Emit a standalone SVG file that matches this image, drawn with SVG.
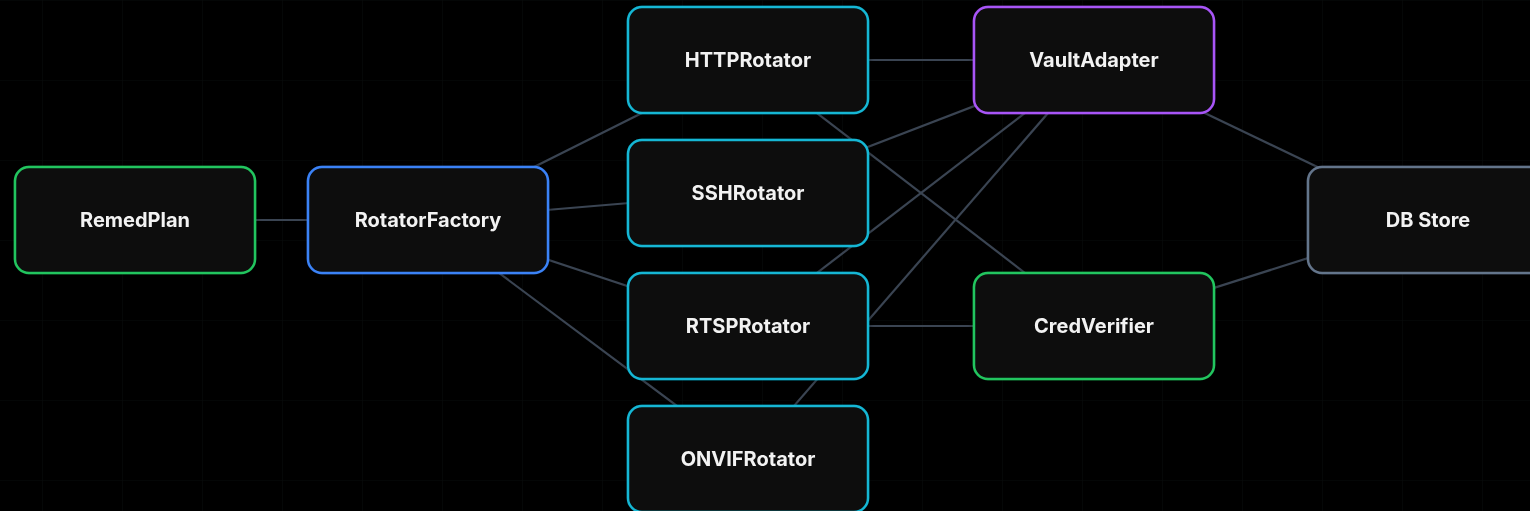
<svg xmlns="http://www.w3.org/2000/svg" width="1530" height="511" viewBox="0 0 1530 511">
  <defs>
    <pattern id="grid" width="80" height="80" patternUnits="userSpaceOnUse" x="42" y="0">
      <path d="M0 0V80M0 0H80" fill="none" stroke="#080b0b" stroke-width="1.2"/>
    </pattern>
    <filter id="glow" x="-20%" y="-20%" width="140%" height="140%">
      <feGaussianBlur in="SourceAlpha" stdDeviation="2.5" result="b"/>
      <feFlood flood-color="currentColor" flood-opacity="0.55"/>
      <feComposite in2="b" operator="in" result="g"/>
      <feMerge><feMergeNode in="g"/><feMergeNode in="SourceGraphic"/></feMerge>
    </filter>
    <style>
      .node rect { fill: #0c0c0c; stroke-width: 2.5; }
      .node text { fill: #f2f2f2; font-family: Inter, "Noto Sans", "Liberation Sans", sans-serif; font-size: 20px; font-weight: 700; text-anchor: middle; dominant-baseline: central; }
      .green { color: #22c55e; } .green rect { stroke: #22c55e; }
      .blue { color: #3b82f6; } .blue rect { stroke: #3b82f6; }
      .cyan { color: #13b6d4; } .cyan rect { stroke: #13b6d4; }
      .purple { color: #a855f7; } .purple rect { stroke: #a855f7; }
      .gray { color: #64748b; } .gray rect { stroke: #64748b; }
      #edges line { stroke: #3a4452; stroke-width: 2.2; }
    </style>
  </defs>

  <rect width="1530" height="511" fill="#000"/>
  <rect width="1530" height="511" fill="url(#grid)"/>

  <!-- connectors run centre to centre, hidden under the boxes -->
  <g id="edges">
    <line x1="135" y1="220" x2="428" y2="220"/>
    <line x1="428" y1="220" x2="748" y2="60"/>
    <line x1="428" y1="220" x2="748" y2="193"/>
    <line x1="428" y1="220" x2="748" y2="326"/>
    <line x1="428" y1="220" x2="748" y2="459"/>
    <line x1="748" y1="60" x2="1094" y2="60"/>
    <line x1="748" y1="60" x2="1094" y2="326"/>
    <line x1="748" y1="193" x2="1094" y2="60"/>
    <line x1="748" y1="326" x2="1094" y2="60"/>
    <line x1="748" y1="459" x2="1094" y2="60"/>
    <line x1="748" y1="326" x2="1094" y2="326"/>
    <line x1="1094" y1="60" x2="1428" y2="220"/>
    <line x1="1094" y1="326" x2="1428" y2="220"/>
  </g>

  <g id="remedplan" class="node green" filter="url(#glow)">
    <rect x="15" y="167" width="240" height="106" rx="14"/>
    <text x="135" y="220">RemedPlan</text>
  </g>
  <g id="rotatorfactory" class="node blue" filter="url(#glow)">
    <rect x="308" y="167" width="240" height="106" rx="14"/>
    <text x="428" y="220">RotatorFactory</text>
  </g>
  <g id="httprotator" class="node cyan" filter="url(#glow)">
    <rect x="628" y="7" width="240" height="106" rx="14"/>
    <text x="748" y="60">HTTPRotator</text>
  </g>
  <g id="sshrotator" class="node cyan" filter="url(#glow)">
    <rect x="628" y="140" width="240" height="106" rx="14"/>
    <text x="748" y="193">SSHRotator</text>
  </g>
  <g id="rtsprotator" class="node cyan" filter="url(#glow)">
    <rect x="628" y="273" width="240" height="106" rx="14"/>
    <text x="748" y="326">RTSPRotator</text>
  </g>
  <g id="onvifrotator" class="node cyan" filter="url(#glow)">
    <rect x="628" y="406" width="240" height="106" rx="14"/>
    <text x="748" y="459">ONVIFRotator</text>
  </g>
  <g id="vaultadapter" class="node purple" filter="url(#glow)">
    <rect x="974" y="7" width="240" height="106" rx="14"/>
    <text x="1094" y="60">VaultAdapter</text>
  </g>
  <g id="credverifier" class="node green" filter="url(#glow)">
    <rect x="974" y="273" width="240" height="106" rx="14"/>
    <text x="1094" y="326">CredVerifier</text>
  </g>
  <g id="dbstore" class="node gray" filter="url(#glow)">
    <rect x="1308" y="167" width="240" height="106" rx="14"/>
    <text x="1428" y="220">DB Store</text>
  </g>
</svg>
